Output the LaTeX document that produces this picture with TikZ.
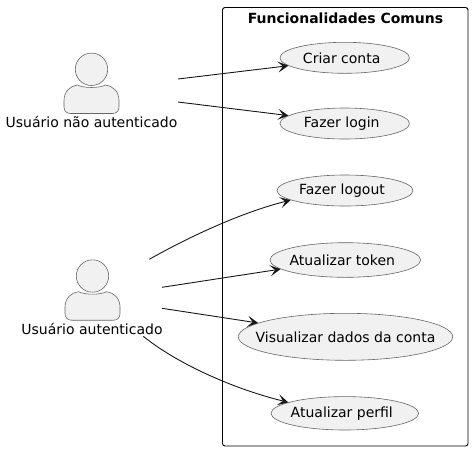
\documentclass[tikz,border=0pt]{standalone}
\usepackage{fontspec}
\setmainfont{DejaVu Sans}
\usetikzlibrary{arrows.meta,shapes.geometric}
\definecolor{umlfill}{HTML}{F1F1F1}
\definecolor{umlline}{HTML}{181818}
\definecolor{umledge}{HTML}{666666}
\tikzset{
usecase/.style={ellipse,draw=umledge,fill=umlfill,line width=0.6pt,inner xsep=-20pt,inner ysep=-5pt},
offtext/.style={execute at begin node=\kern-6pt},
actorpart/.style={draw=umledge,fill=umlfill,line width=0.6pt},
link/.style={->,draw=umlline,line width=0.9pt},
actorname/.style={inner sep=0pt,text=black}
}
\begin{document}
\begin{tikzpicture}[font=\fontsize{14}{16}\selectfont, line join=round, >={Stealth[length=10.5pt,width=11pt,inset=5pt]}, x=1pt, y=-1pt]
\useasboundingbox (0,0) rectangle (473,451);
\node[draw=black, line width=0.9pt, rounded corners=2.5pt, minimum width=245.5pt, minimum height=438.5pt, inner sep=0pt] (comuns) at (345.25,226.75) {};
\node[font=\fontsize{14}{16}\selectfont\bfseries, inner sep=0pt] (titulo) at (345.5,18) {Funcionalidades Comuns};
% actors
\foreach \x/\y in {91.5/69.3,92.5/276}{
\draw[actorpart] (\x,\y) circle(16.2pt);
\draw[actorpart] (\x-27.5,\y+37.5) -- (\x-27.5,\y+31) .. controls (\x-27.5,\y+22) and (\x-21,\y+16.5) .. (\x-14,\y+15.7) .. controls (\x-8,\y+19) and (\x+8,\y+19) .. (\x+14,\y+15.7) .. controls (\x+21,\y+16.5) and (\x+27.5,\y+22) .. (\x+27.5,\y+31) -- (\x+27.5,\y+37.5) .. controls (\x+27.5,\y+41.5) and (\x+25,\y+44.2) .. (\x+21,\y+44.2) -- (\x-21,\y+44.2) .. controls (\x-25,\y+44.2) and (\x-27.5,\y+41.5) .. (\x-27.5,\y+37.5) -- cycle;
}
\node[actorname] (naoaut) at (91.5,121.5) {Usuário não autenticado};
\node[actorname] (aut) at (92,328.5) {Usuário autenticado};
% use cases
\node[usecase, offtext, minimum width=129.5pt, minimum height=31pt] (criar) at (344.7,57.8) {Criar conta};
\node[usecase, offtext, minimum width=129.5pt, minimum height=31pt] (login) at (344.7,123.5) {Fazer login};
\node[usecase, offtext, minimum width=136pt, minimum height=31pt] (logout) at (345,190.5) {Fazer logout};
\node[usecase, offtext, minimum width=150.6pt, minimum height=34.6pt] (token) at (345.3,260) {Atualizar token};
\node[usecase, minimum width=214.4pt, minimum height=47pt] (dados) at (345.5,336.8) {Visualizar dados da conta};
\node[usecase, offtext, minimum width=147.6pt, minimum height=33.4pt] (perfil) at (344.8,413.3) {Atualizar perfil};
% free ends of the links
\coordinate (n1) at (178,79);
\coordinate (n2) at (178,102);
\coordinate (a1) at (149.3,259.3);
\coordinate (a2) at (162,287.3);
\coordinate (a3) at (162,308.3);
\coordinate (a4) at (143.3,336.3);
\draw[link] (n1) -- (criar.188);
\draw[link] (n2) -- (login.172);
\draw[link] (a1) .. controls (178,243) and (235,214) .. (logout.190);
\draw[link] (a2) -- (token.188.7);
\draw[link] (a3) -- (dados.171);
\draw[link] (a4) .. controls (175,362) and (230,388) .. (perfil.169);
\end{tikzpicture}
\end{document}
